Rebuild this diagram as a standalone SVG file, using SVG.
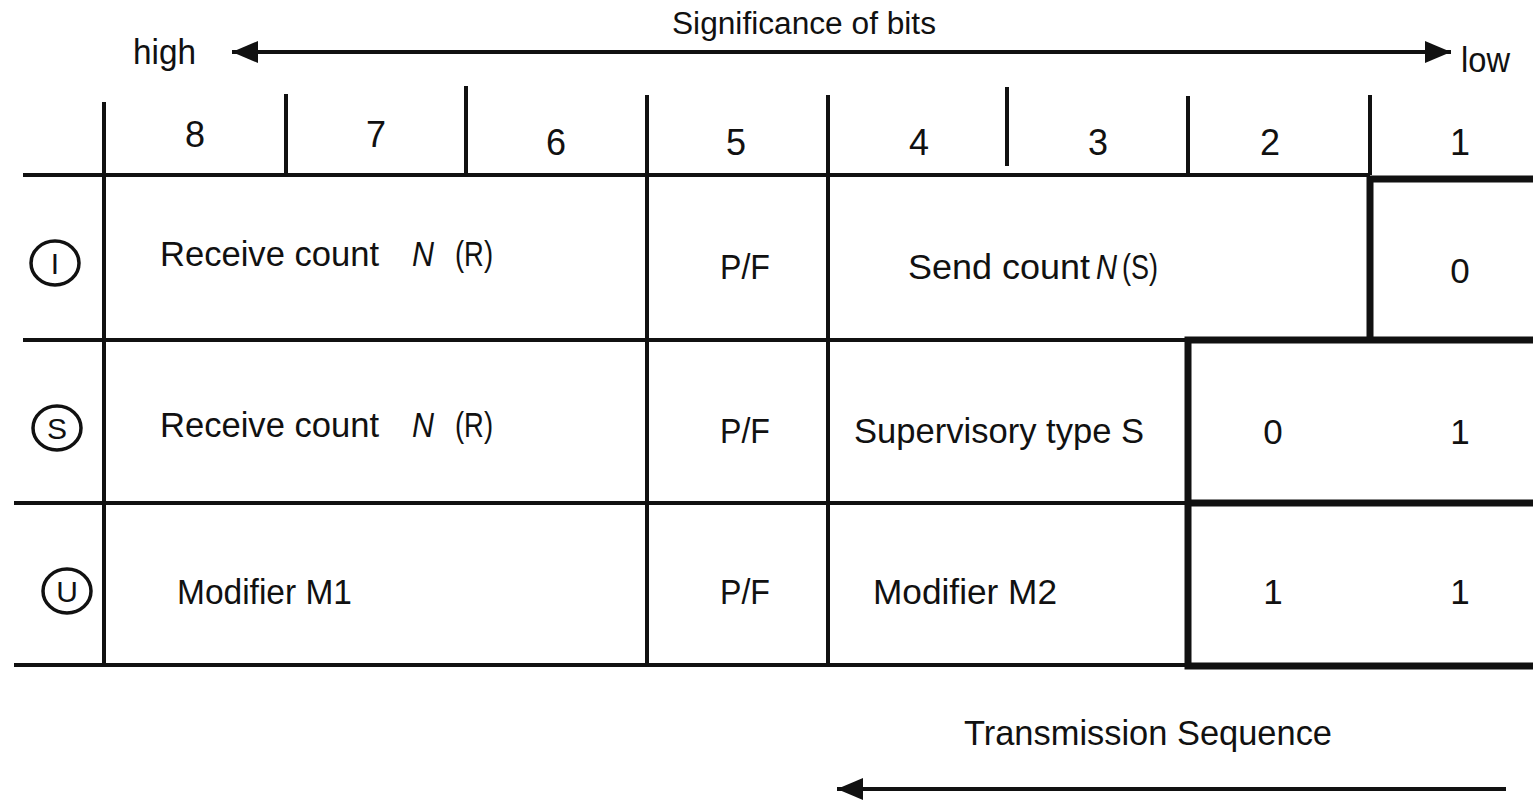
<svg xmlns="http://www.w3.org/2000/svg" width="1533" height="800" viewBox="0 0 1533 800" font-size="35">
<style>
text{font-family:"Liberation Sans",Arial,sans-serif;fill:#111}
.thin{stroke:#111;stroke-width:4;fill:none}
.thick{stroke:#111;stroke-width:7;fill:none;stroke-linecap:square}
.it{font-style:italic}
.c{text-anchor:middle}
.circ{stroke:#111;stroke-width:3.5;fill:none}
</style>
<defs>
<marker id="ah" viewBox="0 0 26 22" refX="26" refY="11" markerWidth="26" markerHeight="22" markerUnits="userSpaceOnUse" orient="auto-start-reverse">
<path d="M0,0 L26,11 L0,22 Z" fill="#111"/>
</marker>
</defs>
<rect width="1533" height="800" fill="#fff"/>

<g id="connectors">
<line class="thin" x1="232" y1="52" x2="1451" y2="52" marker-start="url(#ah)" marker-end="url(#ah)"/>
<line class="thin" x1="1506" y1="789" x2="837" y2="789" marker-end="url(#ah)"/>
</g>

<g id="grid">
<line class="thin" x1="23" y1="175" x2="1370" y2="175"/>
<line class="thin" x1="23" y1="340" x2="1188" y2="340"/>
<line class="thin" x1="14" y1="503" x2="1188" y2="503"/>
<line class="thin" x1="14" y1="665" x2="1188" y2="665"/>
<line class="thin" x1="104" y1="102" x2="104" y2="665"/>
<line class="thin" x1="286" y1="94" x2="286" y2="175"/>
<line class="thin" x1="466" y1="86" x2="466" y2="175"/>
<line class="thin" x1="647" y1="95" x2="647" y2="665"/>
<line class="thin" x1="828" y1="95" x2="828" y2="665"/>
<line class="thin" x1="1007" y1="87" x2="1007" y2="166"/>
<line class="thin" x1="1188" y1="96" x2="1188" y2="175"/>
<line class="thin" x1="1370" y1="95" x2="1370" y2="175"/>
<path class="thick" d="M1533,179 H1370 V340 H1533 M1188,340 V666 H1533 M1188,503 H1533 M1188,340 H1370"/>
</g>

<g id="title">
<text x="672" y="34" font-size="31" textLength="264" lengthAdjust="spacingAndGlyphs">Significance of bits</text>
<text x="133" y="64" font-size="35" textLength="63" lengthAdjust="spacingAndGlyphs">high</text>
<text x="1461" y="72" font-size="35" textLength="49" lengthAdjust="spacingAndGlyphs">low</text>
</g>

<g id="header" font-size="36">
<text class="c" x="195" y="147">8</text>
<text class="c" x="376" y="147">7</text>
<text class="c" x="556" y="155">6</text>
<text class="c" x="736" y="155">5</text>
<text class="c" x="919" y="155">4</text>
<text class="c" x="1098" y="155">3</text>
<text class="c" x="1270" y="155">2</text>
<text class="c" x="1460" y="155">1</text>
</g>

<g id="row-I">
<ellipse class="circ" cx="55" cy="263" rx="24" ry="22"/>
<text class="c" x="55" y="274" font-size="30">I</text>
<text x="160" y="266" textLength="219" lengthAdjust="spacingAndGlyphs">Receive count</text>
<text class="it" x="412" y="266" textLength="22" lengthAdjust="spacingAndGlyphs">N</text>
<text x="455" y="266" textLength="38" lengthAdjust="spacingAndGlyphs">(R)</text>
<text x="720" y="279" textLength="50" lengthAdjust="spacingAndGlyphs">P/F</text>
<text x="908" y="279" textLength="182" lengthAdjust="spacingAndGlyphs">Send count</text>
<text class="it" x="1096" y="279" textLength="21" lengthAdjust="spacingAndGlyphs">N</text>
<text x="1122" y="279" textLength="36" lengthAdjust="spacingAndGlyphs">(S)</text>
<text class="c" x="1460" y="283">0</text>
</g>

<g id="row-S">
<ellipse class="circ" cx="57" cy="428" rx="24" ry="22"/>
<text class="c" x="57" y="439" font-size="30">S</text>
<text x="160" y="437" textLength="219" lengthAdjust="spacingAndGlyphs">Receive count</text>
<text class="it" x="412" y="437" textLength="22" lengthAdjust="spacingAndGlyphs">N</text>
<text x="455" y="437" textLength="38" lengthAdjust="spacingAndGlyphs">(R)</text>
<text x="720" y="443" textLength="50" lengthAdjust="spacingAndGlyphs">P/F</text>
<text x="854" y="443" textLength="290" lengthAdjust="spacingAndGlyphs">Supervisory type S</text>
<text class="c" x="1273" y="444">0</text>
<text class="c" x="1460" y="444">1</text>
</g>

<g id="row-U">
<ellipse class="circ" cx="67" cy="591" rx="24" ry="22"/>
<text class="c" x="67" y="602" font-size="30">U</text>
<text x="177" y="604" textLength="175" lengthAdjust="spacingAndGlyphs">Modifier M1</text>
<text x="720" y="604" textLength="50" lengthAdjust="spacingAndGlyphs">P/F</text>
<text x="873" y="604" textLength="184" lengthAdjust="spacingAndGlyphs">Modifier M2</text>
<text class="c" x="1273" y="604">1</text>
<text class="c" x="1460" y="604">1</text>
</g>

<g id="transmission">
<text x="964" y="745" textLength="368" lengthAdjust="spacingAndGlyphs">Transmission Sequence</text>
</g>
</svg>
